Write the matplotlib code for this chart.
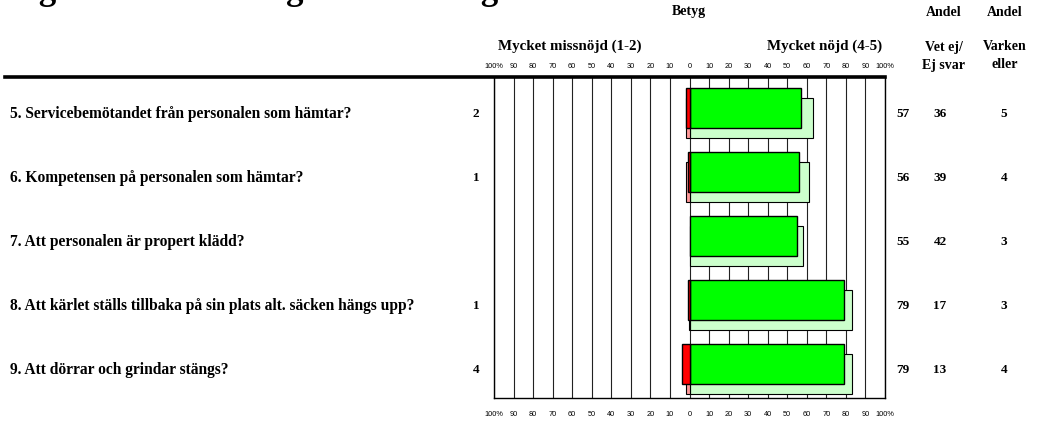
import matplotlib
matplotlib.use("Agg")
import matplotlib.pyplot as plt
from matplotlib.transforms import blended_transform_factory
from matplotlib.lines import Line2D

plt.rcParams['font.family'] = ['Liberation Serif', 'DejaVu Serif']

fragor = [
    "5. Servicebemötandet från personalen som hämtar?",
    "6. Kompetensen på personalen som hämtar?",
    "7. Att personalen är propert klädd?",
    "8. Att kärlet ställs tillbaka på sin plats alt. säcken hängs upp?",
    "9. Att dörrar och grindar stängs?",
]
missnojd = [2, 1, 0, 1, 4]          # andel 1-2, i år
nojd = [57, 56, 55, 79, 79]         # andel 4-5, i år
missnojd_fg = [2, 2, 0, 0.5, 2]     # föregående mätning
nojd_fg = [63, 61, 58, 83, 83]
vet_ej = [36, 39, 42, 17, 13]
varken = [5, 4, 3, 3, 4]

W, H = 1060, 421
fig = plt.figure(figsize=(W / 100, H / 100), dpi=100)
ax = fig.add_axes([494 / W, 1 - 398 / H, (885 - 494) / W, (398 - 77) / H])

rader = list(range(len(fragor)))
hojd = 0.625
# skuggstaplar (föregående) bakom
for i in rader:
    yc = i + 0.063
    ax.barh(yc, nojd_fg[i], height=hojd, left=0, color='#ccffcc',
            edgecolor='black', linewidth=0.8, zorder=2)
    if missnojd_fg[i] > 0:
        ax.barh(yc, -missnojd_fg[i], height=hojd, left=0, color='#ff9999',
                edgecolor='black', linewidth=0.8, zorder=2)
for i in rader:
    yc = i - 0.094
    ax.barh(yc, nojd[i], height=hojd, left=0, color='#00ff00',
            edgecolor='black', linewidth=1.0, zorder=3)
    if missnojd[i] > 0:
        ax.barh(yc, -missnojd[i], height=hojd, left=0, color='#ff0000',
                edgecolor='black', linewidth=1.0, zorder=3)

ax.set_xlim(-100, 100)
ax.set_ylim(4.44, -0.58)
ticks = list(range(-100, 101, 10))
ax.set_xticks(ticks)
ax.set_yticks([])
ax.tick_params(axis='x', length=0, labelbottom=False, labeltop=False)
ax.grid(axis='x', color='#222222', linewidth=0.8, zorder=1)
for s in ['left', 'right', 'bottom']:
    ax.spines[s].set_color('black')
    ax.spines[s].set_linewidth(1.0)
ax.spines['top'].set_visible(False)

def etikett(t):
    if abs(t) == 100:
        return '100%'
    return str(abs(t))

xtr = ax.get_xaxis_transform()
for t in ticks:
    ax.text(t, 1 + 10 / 321, etikett(t), transform=xtr, ha='center', va='center',
            fontsize=5.3, family='Liberation Sans', clip_on=False)
    ax.text(t, -17 / 321, etikett(t), transform=xtr, ha='center', va='center',
            fontsize=5.3, family='Liberation Sans', clip_on=False)

# tjock linje överst
fig.add_artist(Line2D([5 / W, 885 / W], [1 - 77 / H, 1 - 77 / H],
                      color='black', linewidth=2.6, transform=fig.transFigure))

def fx(px):
    return px / W

def fy(py):
    return 1 - py / H

# rubriker
fig.text(fx(8), fy(-1.5), "Figur 3. Bedömning av hämtningen",
         fontsize=25, fontweight='bold', va='baseline', ha='left')
fig.text(fx(689), fy(11), "Betyg", fontsize=10, fontweight='bold', ha='center', va='center')
fig.text(fx(944), fy(12), "Andel", fontsize=10, fontweight='bold', ha='center', va='center')
fig.text(fx(1005), fy(12), "Andel", fontsize=10, fontweight='bold', ha='center', va='center')
fig.text(fx(570), fy(46), "Mycket missnöjd (1-2)", fontsize=10.8, fontweight='bold',
         ha='center', va='center')
fig.text(fx(825), fy(46), "Mycket nöjd (4-5)", fontsize=10.8, fontweight='bold',
         ha='center', va='center')
fig.text(fx(944), fy(47), "Vet ej/", fontsize=10, fontweight='bold', ha='center', va='center')
fig.text(fx(944), fy(65), "Ej svar", fontsize=10, fontweight='bold', ha='center', va='center')
fig.text(fx(1005), fy(47), "Varken", fontsize=10, fontweight='bold', ha='center', va='center')
fig.text(fx(1005), fy(65), "eller", fontsize=10, fontweight='bold', ha='center', va='center')

rtr = blended_transform_factory(fig.transFigure, ax.transData)
for i in rader:
    fig.text(fx(10), i, fragor[i], transform=rtr, fontsize=11.2, fontweight='bold',
             ha='left', va='center')
    if missnojd[i] > 0:
        fig.text(fx(476), i, str(missnojd[i]), transform=rtr, fontsize=9.5,
                 fontweight='bold', ha='center', va='center')
    fig.text(fx(903), i, str(nojd[i]), transform=rtr, fontsize=9.5,
             fontweight='bold', ha='center', va='center')
    fig.text(fx(940), i, str(vet_ej[i]), transform=rtr, fontsize=9.5,
             fontweight='bold', ha='center', va='center')
    fig.text(fx(1004), i, str(varken[i]), transform=rtr, fontsize=9.5,
             fontweight='bold', ha='center', va='center')

fig.savefig("out.png", dpi=100)
